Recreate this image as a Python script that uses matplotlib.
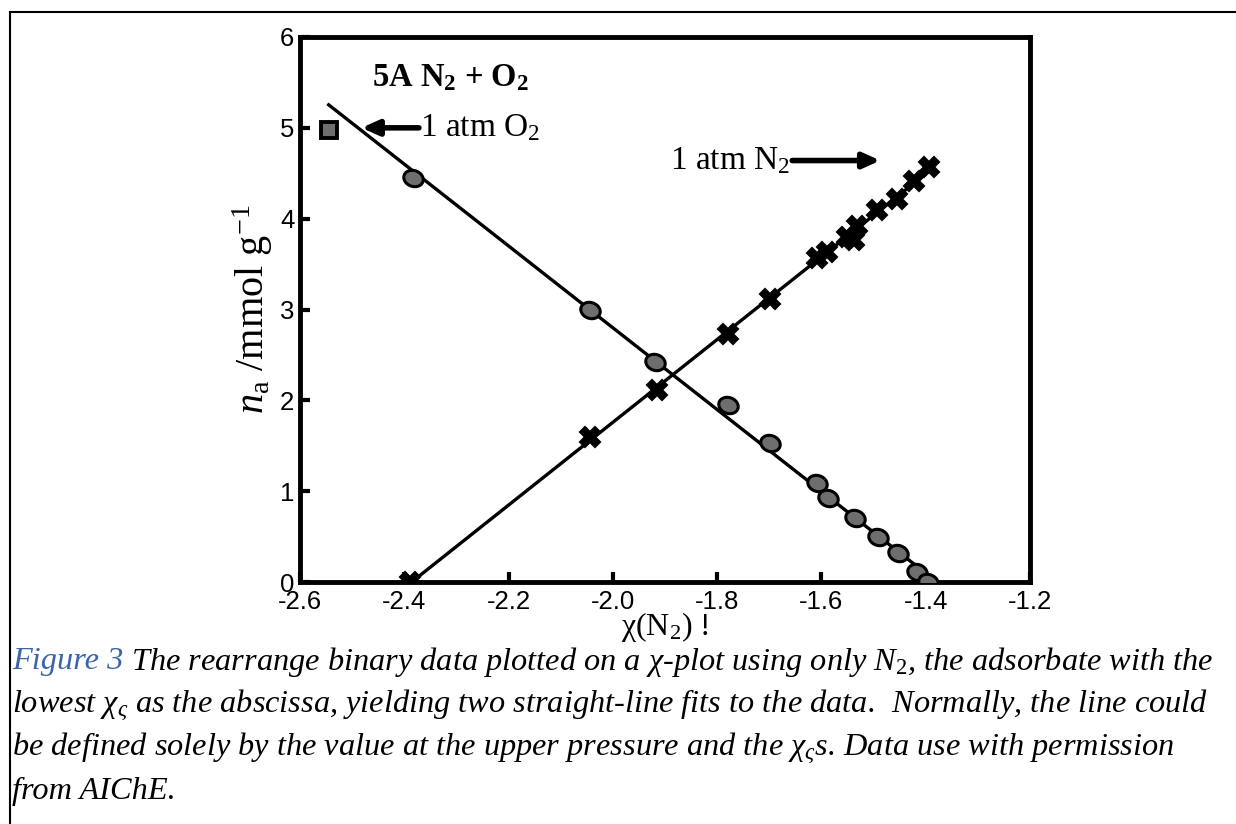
import numpy as np
import matplotlib
matplotlib.use("Agg")
import matplotlib.pyplot as plt
from matplotlib.lines import Line2D
from matplotlib.path import Path

plt.rcParams['mathtext.fontset'] = 'custom'
plt.rcParams['mathtext.rm'] = 'Liberation Serif'
plt.rcParams['mathtext.it'] = 'Liberation Serif:italic'
plt.rcParams['mathtext.bf'] = 'Liberation Serif:bold'

# O2 amounts adsorbed (grey ellipses) vs chi(N2)
o2_x = [-2.384, -2.043, -1.919, -1.779, -1.698, -1.608, -1.588, -1.535, -1.491, -1.454, -1.416, -1.395]
o2_y = [4.45, 2.99, 2.42, 1.95, 1.53, 1.09, 0.92, 0.70, 0.49, 0.32, 0.11, 0.0]
# pure O2 point at 1 atm (square)
o2_pure_x = [-2.545]
o2_pure_y = [4.98]
# N2 amounts adsorbed (black crosses)
n2_x = [-2.389, -2.043, -1.915, -1.780, -1.698, -1.608, -1.590, -1.551, -1.538, -1.531, -1.493, -1.455, -1.423, -1.394]
n2_y = [0.0, 1.60, 2.11, 2.73, 3.12, 3.57, 3.63, 3.80, 3.76, 3.92, 4.09, 4.22, 4.42, 4.57]
# x range of the straight-line fits
o2_fit_range = [-2.545, -1.385]
n2_fit_range = [-2.395, -1.385]

x_ticks = [-2.6, -2.4, -2.2, -2.0, -1.8, -1.6, -1.4, -1.2]
y_ticks = [0, 1, 2, 3, 4, 5, 6]

caption_lines = [
    r" The rearrange binary data plotted on a $\chi$-plot using only $N_2$, the adsorbate with the",
    r"lowest $\chi_\varsigma$ as the abscissa, yielding two straight-line fits to the data.  Normally, the line could",
    r"be defined solely by the value at the upper pressure and the $\chi_\varsigma$s. Data use with permission",
    r"from AIChE.",
]

fig = plt.figure(figsize=(12.36, 8.24), dpi=100)
ax = fig.add_axes([300 / 1236, 1 - 582 / 824, 730 / 1236, 545 / 824])

# ellipse marker
t = np.linspace(0, 2 * np.pi, 40)
ell = np.column_stack([1.25 * np.cos(t), np.sin(t)])
rot = np.deg2rad(-20)
ell = ell @ np.array([[np.cos(rot), np.sin(rot)], [-np.sin(rot), np.cos(rot)]])
ell_marker = Path(ell, closed=True)

for xs, ys, rng in [(o2_x, o2_y, o2_fit_range), (n2_x, n2_y, n2_fit_range)]:
    k, b = np.polyfit(xs, ys, 1)
    xx = np.array(rng)
    ax.plot(xx, k * xx + b, color='black', lw=2.4, zorder=2)

ax.plot(n2_x, n2_y, ls='none', marker='X', ms=15, mfc='black', mec='black', mew=1.5, zorder=3)
ax.plot(o2_x, o2_y, ls='none', marker=ell_marker, ms=14, mfc='#6e6e6e', mec='black', mew=2.2, zorder=4)
ax.plot(o2_pure_x, o2_pure_y, ls='none', marker='s', ms=12, mfc='#6e6e6e', mec='black', mew=2.8, zorder=4)

ax.set_xlim(-2.6, -1.2)
ax.set_ylim(0, 6)
ax.set_xticks(x_ticks)
ax.set_xticklabels([f"{v:.1f}" for v in x_ticks])
ax.set_yticks(y_ticks)
for s in ax.spines.values():
    s.set_linewidth(3.5)
ax.tick_params(direction='in', length=7, width=3)
ax.tick_params(axis='x', pad=6)
ax.tick_params(axis='y', pad=4)
for lab in ax.get_xticklabels() + ax.get_yticklabels():
    lab.set_fontfamily('Liberation Sans')
    lab.set_fontsize(18.5)

ax.set_ylabel(r"$n_{\rm a}$ /mmol g$^{-1}$", family='Liberation Serif', fontsize=29, labelpad=4)
ax.set_xlabel(r"χ(N$_2$) !", family='Liberation Serif', fontsize=23, labelpad=-3)

ax.text(-2.462, 5.55, r"5A N$_\mathbf{2}$ + O$_\mathbf{2}$", family='Liberation Serif',
        fontweight='bold', fontsize=23.5, ha='left', va='center')
arrow_style = dict(arrowstyle='-|>,head_length=1.0,head_width=0.45', color='black', lw=4,
                   shrinkA=0, shrinkB=0)
ax.annotate("", xy=(-2.482, 5.0), xytext=(-2.372, 5.0), arrowprops=arrow_style)
ax.text(-2.37, 5.0, r"1 atm O$_2$", family='Liberation Serif', fontsize=24, ha='left', va='center')
ax.text(-1.659, 4.64, r"1 atm N$_2$", family='Liberation Serif', fontsize=24, ha='right', va='center')
ax.annotate("", xy=(-1.487, 4.64), xytext=(-1.656, 4.64), arrowprops=arrow_style)

# caption
fig.canvas.draw()
renderer = fig.canvas.get_renderer()
y0 = 1 - 662 / 824
dy = 43 / 824
cap_size = 23.3
fig_lab = fig.text(12 / 1236, y0, "Figure 3", family='Liberation Serif', style='italic',
                   fontsize=cap_size, color='#3c64a8', va='center')
w = fig_lab.get_window_extent(renderer).width / fig.bbox.width
for i, line in enumerate(caption_lines):
    x0 = 12 / 1236 + (w if i == 0 else 0)
    fig.text(x0, y0 - i * dy, line, family='Liberation Serif', style='italic',
             fontsize=cap_size, color='black', va='center')

# page frame lines
fig.add_artist(Line2D([10 / 1236, 1], [1 - 12 / 824] * 2, color='black', lw=1.5, transform=fig.transFigure))
fig.add_artist(Line2D([10 / 1236] * 2, [0, 1 - 12 / 824], color='black', lw=1.5, transform=fig.transFigure))

fig.savefig("out.png", dpi=100)
